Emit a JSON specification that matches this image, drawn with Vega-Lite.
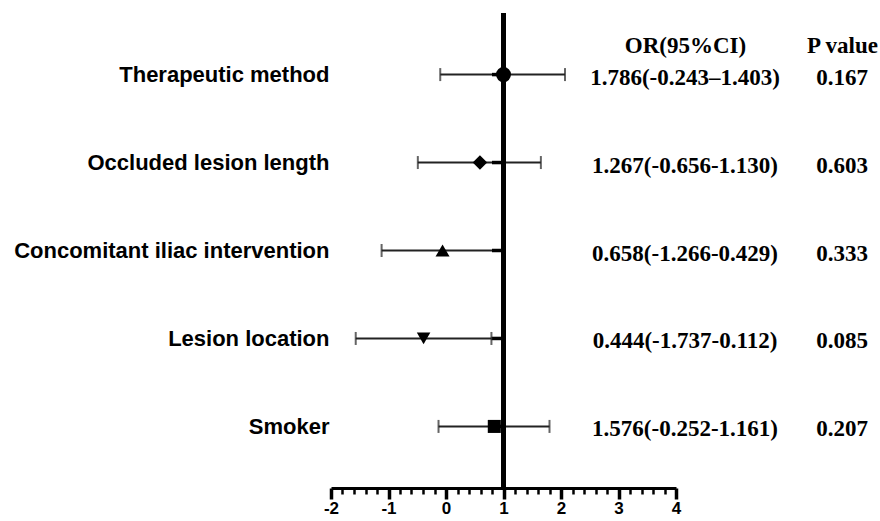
{
  "$schema": "https://vega.github.io/schema/vega-lite/v6.json",
  "autosize": {"type": "pad"},
  "padding": {"top": 10, "left": 13, "right": 0, "bottom": 0},
  "background": "white",
  "config": {"view": {"stroke": null}, "concat": {"spacing": 9}},
  "bounds": "flush",
  "data": {"values": [
    {"label": "Therapeutic method", "est": 1.0, "lo": -0.10, "hi": 2.07, "stub_lo": 0.8, "stub_hi": 1.0, "ci": "1.786(-0.243–1.403)", "p": "0.167"},
    {"label": "Occluded lesion length", "est": 0.59, "lo": -0.49, "hi": 1.65, "stub_lo": 0.8, "stub_hi": 1.0, "ci": "1.267(-0.656-1.130)", "p": "0.603"},
    {"label": "Concomitant iliac intervention", "est": -0.06, "lo": -1.12, "hi": 1.0, "stub_lo": 0.8, "stub_hi": 1.0, "ci": "0.658(-1.266-0.429)", "p": "0.333"},
    {"label": "Lesion location", "est": -0.39, "lo": -1.57, "hi": 0.79, "stub_lo": 0.79, "stub_hi": 1.0, "ci": "0.444(-1.737-0.112)", "p": "0.085"},
    {"label": "Smoker", "est": 0.84, "lo": -0.13, "hi": 1.80, "stub_lo": 0.8, "stub_hi": 1.0, "ci": "1.576(-0.252-1.161)", "p": "0.207"}
  ]},
  "hconcat": [
    {
      "width": 345,
      "height": 475,
      "layer": [
        {
          "mark": {"type": "rule", "strokeWidth": 2, "color": "#222"},
          "encoding": {
            "y": {"field": "label", "type": "nominal",
              "scale": {"type": "point", "padding": 0.7, "domain": ["Therapeutic method", "Occluded lesion length", "Concomitant iliac intervention", "Lesion location", "Smoker"]},
              "axis": {"title": null, "ticks": false, "domain": false, "labelFont": "Liberation Sans", "labelFontWeight": "bold", "labelFontSize": 22, "labelColor": "black", "labelPadding": 2, "labelLimit": 500}},
            "x": {"field": "lo", "type": "quantitative",
              "scale": {"domain": [-2, 4], "nice": false, "zero": false},
              "axis": {"title": null, "grid": false, "domainColor": "black", "domainWidth": 3, "tickCount": 200,
                "values": [-2, -1.8, -1.6, -1.4, -1.2, -1, -0.8, -0.6, -0.4, -0.2, 0, 0.2, 0.4, 0.6, 0.8, 1, 1.2, 1.4, 1.6, 1.8, 2, 2.2, 2.4, 2.6, 2.8, 3, 3.2, 3.4, 3.6, 3.8, 4],
                "tickColor": "black",
                "tickSize": {"condition": {"test": "datum.value % 1 === 0", "value": 11}, "value": 6},
                "tickWidth": {"condition": {"test": "datum.value % 1 === 0", "value": 3.5}, "value": 2.5},
                "labelExpr": "datum.value % 1 === 0 ? '' + datum.value : ''",
                "labelOverlap": false, "labelFlush": false,
                "labelFont": "Liberation Sans", "labelFontWeight": "bold", "labelFontSize": 17, "labelColor": "black", "labelPadding": 1}},
            "x2": {"field": "hi"}
          }
        },
        {
          "mark": {"type": "rule", "strokeWidth": 3.5, "color": "black"},
          "encoding": {
            "y": {"field": "label", "type": "nominal"},
            "x": {"field": "stub_lo", "type": "quantitative"}, "x2": {"field": "stub_hi"}}
        },
        {
          "mark": {"type": "tick", "thickness": 2, "size": 13, "color": "#222"},
          "encoding": {"y": {"field": "label", "type": "nominal"}, "x": {"field": "lo", "type": "quantitative"}}
        },
        {
          "mark": {"type": "tick", "thickness": 2, "size": 13, "color": "#222"},
          "encoding": {"y": {"field": "label", "type": "nominal"}, "x": {"field": "hi", "type": "quantitative"}}
        },
        {
          "mark": {"type": "rule", "strokeWidth": 4.5, "color": "black"},
          "encoding": {"x": {"datum": 1, "type": "quantitative"}}
        },
        {
          "mark": {"type": "point", "filled": true, "opacity": 1, "color": "black"},
          "encoding": {
            "y": {"field": "label", "type": "nominal"},
            "x": {"field": "est", "type": "quantitative"},
            "shape": {"field": "label", "type": "nominal", "legend": null,
              "scale": {"domain": ["Therapeutic method", "Occluded lesion length", "Concomitant iliac intervention", "Lesion location", "Smoker"],
                "range": ["circle", "diamond", "triangle-up", "triangle-down", "square"]}},
            "size": {"field": "label", "type": "nominal", "legend": null,
              "scale": {"domain": ["Therapeutic method", "Occluded lesion length", "Concomitant iliac intervention", "Lesion location", "Smoker"],
                "range": [225, 170, 220, 220, 240]}}
          }
        }
      ]
    },
    {
      "width": 157,
      "height": 475,
      "encoding": {
        "y": {"field": "label", "type": "nominal",
          "scale": {"type": "point", "padding": 0.7, "domain": ["Therapeutic method", "Occluded lesion length", "Concomitant iliac intervention", "Lesion location", "Smoker"]},
          "axis": null}
      },
      "layer": [
        {
          "mark": {"type": "text", "font": "Liberation Serif", "fontWeight": "bold", "fontSize": 23, "color": "black", "baseline": "middle", "dy": 3},
          "encoding": {
            "x": {"datum": "OR(95%CI)", "type": "nominal",
              "scale": {"type": "point", "padding": 0, "domain": ["OR(95%CI)", "P value"]},
              "axis": {"orient": "top", "title": null, "offset": -32, "domain": false, "ticks": false, "labelPadding": 0, "labelBaseline": "middle", "labelAngle": 0,
                "labelFont": "Liberation Serif", "labelFontWeight": "bold", "labelFontSize": 23, "labelColor": "black", "labelLimit": 300}},
            "text": {"field": "ci"}
          }
        },
        {
          "mark": {"type": "text", "font": "Liberation Serif", "fontWeight": "bold", "fontSize": 23, "color": "black", "baseline": "middle", "dy": 3},
          "encoding": {
            "x": {"datum": "P value", "type": "nominal"},
            "text": {"field": "p"}
          }
        }
      ]
    }
  ]
}
